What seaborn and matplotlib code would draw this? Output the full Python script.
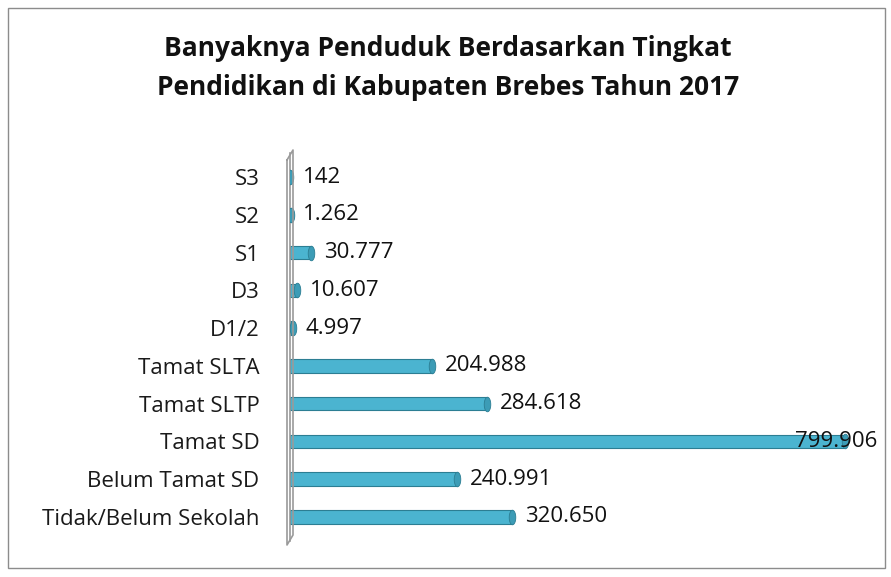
import numpy as np
import pandas as pd
import matplotlib
matplotlib.use("Agg")
import matplotlib.pyplot as plt
import seaborn as sns
from matplotlib.patches import Rectangle
from matplotlib.lines import Line2D

# data (top to bottom as in the chart)
categories = ["S3", "S2", "S1", "D3", "D1/2", "Tamat SLTA", "Tamat SLTP",
              "Tamat SD", "Belum Tamat SD", "Tidak/Belum Sekolah"]
values = [142, 1262, 30777, 10607, 4997, 204988, 284618, 799906, 240991, 320650]
value_labels = ["142", "1.262", "30.777", "10.607", "4.997", "204.988",
                "284.618", "799.906", "240.991", "320.650"]

df = pd.DataFrame({"Tingkat": categories, "Jumlah": values})

sns.set_theme(style="white")
plt.rcParams["font.family"] = ["Open Sans", "DejaVu Sans"]

W, H = 891, 577
fig = plt.figure(figsize=(W / 100, H / 100), dpi=100)
ax = fig.add_axes([290 / W, (H - 541.4) / H, 570 / W, 388.8 / H])

bar_color = "#4BB4D0"
sns.barplot(data=df, x="Jumlah", y="Tingkat", orient="h", color=bar_color,
            width=0.36, edgecolor="#2C7E93", linewidth=0.8, saturation=1, ax=ax)

# cylinder end caps
t = np.linspace(0, 2 * np.pi, 40)
cap = list(zip(0.45 * np.cos(t), np.sin(t)))
ax.scatter(values, range(len(values)), marker=cap, s=110, color="#3C9CB6",
           edgecolor="#2C7E93", linewidth=0.6, zorder=3)

ax.set_xlim(0, 799906 * 570 / 555)
ax.set_xlabel("")
ax.set_ylabel("")
ax.set_xticks([])
ax.tick_params(axis="y", length=0, pad=22, labelsize=16, labelcolor="#1a1a1a")
for s in ["top", "right", "bottom"]:
    ax.spines[s].set_visible(False)
ax.spines["left"].set_color("#9a9a9a")
ax.spines["left"].set_linewidth(1.2)

xmax = max(values)
for i, (v, lab) in enumerate(zip(values, value_labels)):
    off = -36 if v == xmax else 9
    ax.annotate(lab, (v, i), xytext=(off, 0), textcoords="offset points",
                va="center", ha="left", fontsize=16, color="#111111",
                annotation_clip=False)

# the 3D wall outline
def px(x, y):
    return x / W, 1 - y / H

wall = [(287, 160), (293, 150), (293, 535), (287, 545), (287, 160)]
xs, ys = zip(*[px(x, y) for x, y in wall])
fig.add_artist(Line2D(xs, ys, color="#9a9a9a", lw=1.2))

# title
fig.text(448 / W, 1 - 49 / H, "Banyaknya Penduduk Berdasarkan Tingkat",
         ha="center", va="center", fontsize=19, fontweight="bold", color="#111111")
fig.text(448 / W, 1 - 87 / H, "Pendidikan di Kabupaten Brebes Tahun 2017",
         ha="center", va="center", fontsize=19, fontweight="bold", color="#111111")

# outer chart border
fig.add_artist(Rectangle((8 / W, 1 - 568 / H), 877 / W, 560 / H,
                         fill=False, edgecolor="#8c8c8c", lw=1.0))

fig.savefig("out.png", dpi=100)
